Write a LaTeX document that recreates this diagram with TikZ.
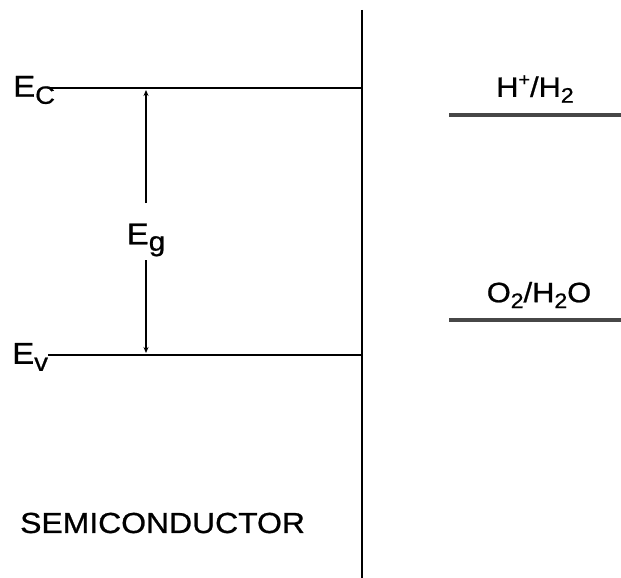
\documentclass[tikz,border=0pt]{standalone}
\usepackage{fontspec}
\setmainfont{Liberation Sans}[FakeBold=0.8]
\newfontfamily\widefont{Liberation Sans}[FakeBold=0.8, FakeStretch=1.1]
\usetikzlibrary{arrows.meta}
\begin{document}
\begin{tikzpicture}[x=1pt,y=-1pt,
  band/.style={line width=2.7pt, black},
  redox/.style={line width=3.8pt, black!72},
  gapline/.style={line width=2.1pt, black},
  tip/.style={-{Stealth[length=6pt,width=5pt]}},
  lbl/.style={inner sep=0pt, font=\widefont\fontsize{30}{30}\selectfont},
  rlbl/.style={inner sep=0pt, font=\widefont\fontsize{28}{28}\selectfont}]
\useasboundingbox (0,0) rectangle (621,578);
% interface
\coordinate (top) at (362,10);
\coordinate (bot) at (362,578);
\draw[band] (top) -- (bot);
% band edges
\node[lbl, anchor=west] (ec) at (13,90) {E\raisebox{-0.45ex}{\fontsize{25}{25}\selectfont C}};
\node[lbl, anchor=west] (ev) at (12,357) {E\raisebox{-0.45ex}{\fontsize{25}{25}\selectfont v}};
\coordinate (ecl) at (50,88);
\coordinate (evl) at (48,355);
\coordinate (ecr) at (362,88);
\coordinate (evr) at (362,355);
\draw[band] (ecl) -- (ecr);
\draw[band] (evl) -- (evr);
% gap
\node[lbl] (eg) at (146,240) {E\raisebox{-0.4ex}{\fontsize{27}{27}\selectfont g}};
\coordinate (gt) at (146,90);
\coordinate (gb) at (146,353);
\coordinate (g1) at (146,203);
\coordinate (g2) at (146,260);
\draw[gapline, tip] (g1) -- (gt);
\draw[gapline, tip] (g2) -- (gb);
% redox levels
\coordinate (h1) at (449,115);
\coordinate (h2) at (621,115);
\coordinate (o1) at (449,320);
\coordinate (o2) at (621,320);
\draw[redox] (h1) -- (h2);
\draw[redox] (o1) -- (o2);
\node[rlbl] (hh) at (535,89) {H\raisebox{0.75ex}{\fontsize{18}{18}\selectfont +}/H\raisebox{-0.4ex}{\fontsize{21}{21}\selectfont 2}};
\node[rlbl] (oo) at (539,295) {O\raisebox{-0.4ex}{\fontsize{21}{21}\selectfont 2}/H\raisebox{-0.4ex}{\fontsize{21}{21}\selectfont 2}O};
% label
\node[inner sep=0pt, font=\widefont\fontsize{29}{29}\selectfont, anchor=west] (sc) at (20,523) {SEMICONDUCTOR};
\end{tikzpicture}
\end{document}
